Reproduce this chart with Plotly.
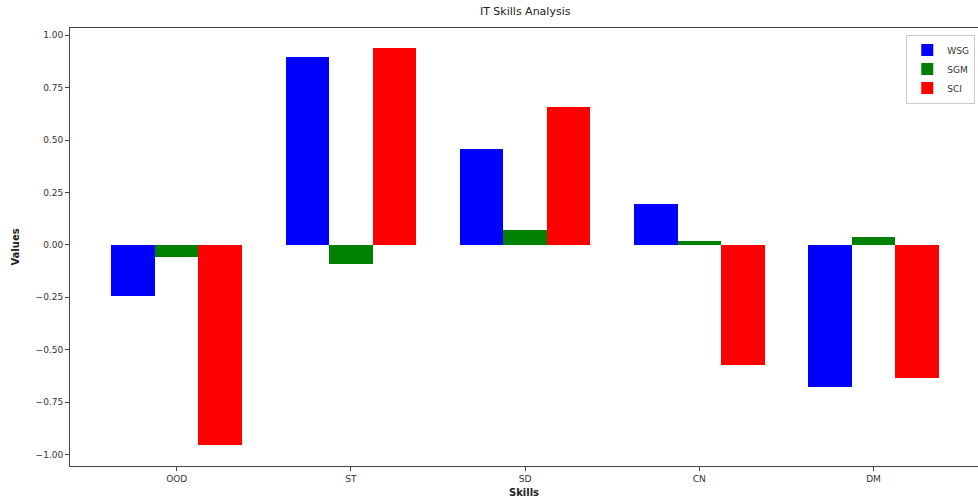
import plotly.graph_objects as go

skills = ["OOD", "ST", "SD", "CN", "DM"]
wsg = [-0.245, 0.895, 0.46, 0.195, -0.68]
sgm = [-0.06, -0.09, 0.07, 0.02, 0.04]
sci = [-0.955, 0.94, 0.66, -0.575, -0.635]
series_names = ["WSG", "SGM", "SCI"]
colors = ["blue", "green", "red"]
y_ticks = [1.0, 0.75, 0.5, 0.25, 0.0, -0.25, -0.5, -0.75, -1.0]

width = 0.25
xs = list(range(len(skills)))
fig = go.Figure()
for i, (name, vals, col) in enumerate(zip(series_names, [wsg, sgm, sci], colors)):
    fig.add_trace(go.Bar(
        x=[x + (i - 1) * width for x in xs], y=vals, width=width, name=name,
        marker=dict(color=col, line=dict(width=0)),
    ))

axis_common = dict(showline=True, linecolor="#444", linewidth=1, mirror=True,
                   ticks="outside", ticklen=4, tickcolor="#444", showgrid=False,
                   zeroline=False, tickfont=dict(family="DejaVu Sans", size=9, color="#333"))
fig.update_layout(
    width=978, height=501,
    margin=dict(l=70, r=0, t=28, b=35),
    plot_bgcolor="white", paper_bgcolor="white",
    title=dict(text="IT Skills Analysis", x=0.537, xanchor="center", y=0.985, yanchor="top",
               font=dict(family="DejaVu Sans", size=11, color="#222")),
    barmode="overlay", bargap=0,
    xaxis=dict(range=[-0.6125, 4.6], tickvals=xs, ticktext=skills,
               title=dict(text="<b>Skills</b>", font=dict(family="DejaVu Sans", size=10, color="#222"), standoff=6),
               **axis_common),
    yaxis=dict(range=[-1.055, 1.035], tickvals=y_ticks, tickformat=".2f",
               title=dict(text="<b>Values</b>", font=dict(family="DejaVu Sans", size=10, color="#222"), standoff=14),
               **axis_common),
    legend=dict(x=0.997, y=0.985, xanchor="right", yanchor="top",
                bordercolor="#ccc", borderwidth=1, bgcolor="white",
                font=dict(family="DejaVu Sans", size=9, color="#333")),
    showlegend=True,
)
fig.write_html("out.html", config={"displayModeBar": False},
               post_script="document.body.style.margin='0';document.body.style.overflow='hidden';")
